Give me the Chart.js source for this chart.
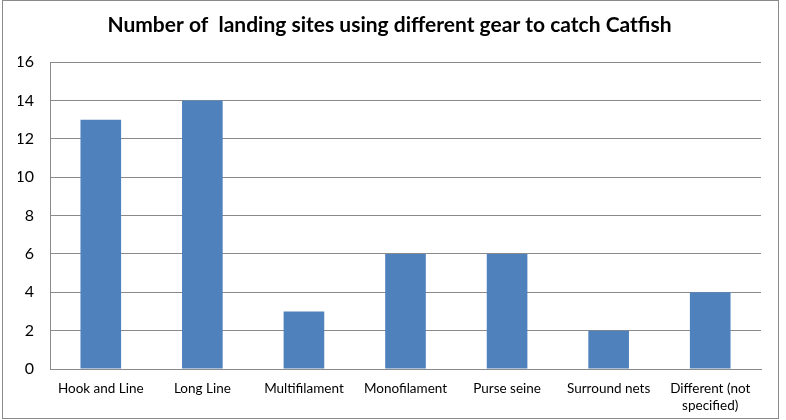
<!DOCTYPE html>
<html>
<head>
<meta charset="utf-8">
<script src="https://cdn.jsdelivr.net/npm/chart.js@4/dist/chart.umd.min.js"></script>
<style>
html,body{margin:0;padding:0;background:#fff;}
#wrap{width:786px;height:420px;position:relative;}
</style>
</head>
<body>
<div id="wrap"><canvas id="c" width="786" height="420"></canvas></div>
<script>
const categories = ["Hook and Line", "Long Line", "Multifilament", "Monofilament", "Purse seine", "Surround nets", ["Different (not", "specified)"]];
const siteCounts = [13, 14, 3, 6, 6, 2, 4];
const yTicks = [0, 2, 4, 6, 8, 10, 12, 14, 16];
const chartTitle = "Number of  landing sites using different gear to catch Catfish";

const borderPlugin = {
  id: 'outerBorder',
  beforeDraw(chart) {
    const ctx = chart.ctx;
    ctx.save();
    ctx.fillStyle = '#fff';
    ctx.fillRect(0, 0, chart.width, chart.height);
    ctx.strokeStyle = '#8a8a8a';
    ctx.lineWidth = 1;
    ctx.strokeRect(2.5, 0.5, 776, 418);
    ctx.restore();
  }
};

new Chart(document.getElementById('c'), {
  type: 'bar',
  data: {
    labels: categories,
    datasets: [{
      data: siteCounts,
      backgroundColor: '#4F81BD',
      borderWidth: 0,
      barPercentage: 0.4,
      categoryPercentage: 1.0
    }]
  },
  options: {
    responsive: false,
    animation: false,
    devicePixelRatio: 1,
    layout: { padding: { left: 18, right: 25, top: 0, bottom: 0 } },
    plugins: {
      legend: { display: false },
      tooltip: { enabled: false },
      title: {
        display: true,
        text: chartTitle,
        color: '#000',
        font: { family: 'Lato', size: 21, weight: 'bold' },
        padding: { top: 13, bottom: 24 }
      }
    },
    scales: {
      x: {
        grid: { display: false, drawTicks: false },
        border: { display: true, color: '#8a8a8a', width: 1 },
        ticks: {
          color: '#000',
          font: { family: 'Lato', size: 13.5 },
          padding: 12,
          maxRotation: 0,
          autoSkip: false
        },
        afterFit(scale) { scale.height = 51; }
      },
      y: {
        min: 0,
        max: 16,
        afterBuildTicks(scale) { scale.ticks = yTicks.map(v => ({ value: v })); },
        grid: { color: '#8a8a8a', lineWidth: 1, drawTicks: false },
        border: { display: true, color: '#8a8a8a', width: 1 },
        ticks: {
          color: '#000',
          font: { family: 'Lato', size: 16 },
          padding: 16
        },
        afterFit(scale) { scale.width = 32; }
      }
    }
  },
  plugins: [borderPlugin]
});
</script>
</body>
</html>
